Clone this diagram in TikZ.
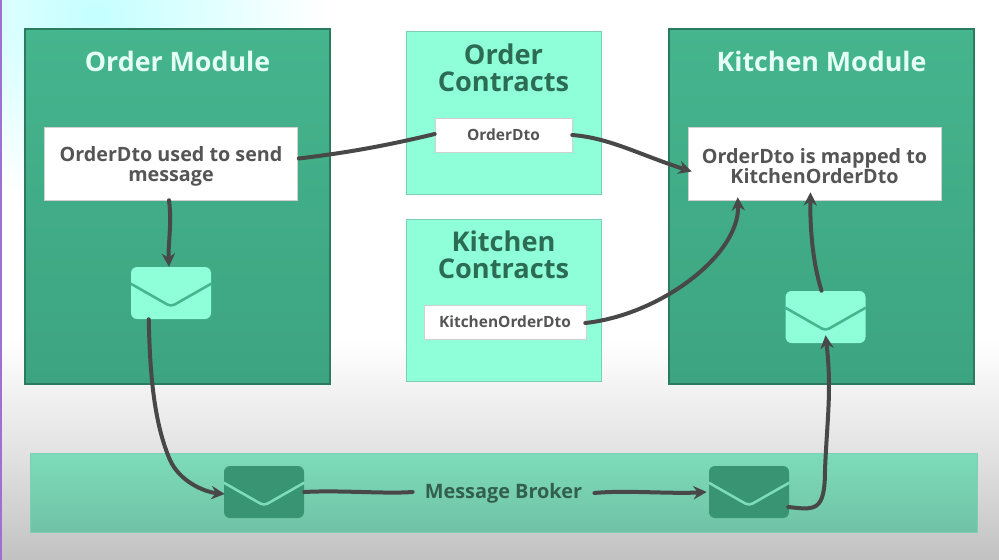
\documentclass[tikz,border=0pt]{standalone}
\usepackage{fontspec}
\setmainfont{Open Sans}
\usetikzlibrary{arrows.meta,calc}
\definecolor{modtop}{HTML}{45B58E}
\definecolor{modbot}{HTML}{3DA481}
\definecolor{modedge}{HTML}{2B7B60}
\definecolor{mint}{HTML}{8FFFD9}
\definecolor{mintedge}{HTML}{7CCFB4}
\definecolor{brokertop}{HTML}{7DDCBA}
\definecolor{brokerbot}{HTML}{70C2A6}
\definecolor{envdark}{HTML}{389472}
\definecolor{darktext}{HTML}{2C6B54}
\definecolor{graytext}{HTML}{555555}
\definecolor{wire}{HTML}{484848}
\definecolor{titlemint}{HTML}{E4FFF6}
\definecolor{glow}{HTML}{C4FFFF}
\definecolor{brokertext}{HTML}{325F4E}
\tikzset{
 module/.style={draw=modedge,line width=0.8pt,top color=modtop,bottom color=modbot,minimum width=228.75pt,minimum height=266.25pt,inner sep=0pt},
 contract/.style={draw=mintedge,line width=0.6pt,fill=mint,minimum width=146.25pt,minimum height=122pt,inner sep=0pt},
 whitebox/.style={fill=white,draw=black!18,line width=0.4pt,inner sep=0pt,text=graytext,font=\bfseries\fontsize{14.8}{15}\selectfont,align=center},
 smallbox/.style={whitebox,font=\bfseries\fontsize{11.6}{13}\selectfont},
 modtitle/.style={text=titlemint,font=\bfseries\fontsize{20.1}{24}\selectfont,align=center},
 contitle/.style={text=darktext,font=\bfseries\fontsize{20.4}{20.5}\selectfont,align=center},
 envlight/.style={fill=mint,rounded corners=4.5pt,minimum width=60pt,minimum height=39pt,inner sep=0pt},
 envd/.style={fill=envdark,rounded corners=4.5pt,minimum width=60pt,minimum height=39pt,inner sep=0pt},
 flap/.style={line width=1.9pt,rounded corners=3pt},
 wireline/.style={draw=wire,line width=3pt,line cap=round},
 wirearrow/.style={wireline,-{Stealth[length=10pt,width=10pt]}},
}
\newcommand{\flapon}[2]{%
 \draw[flap,draw=#2] ($(#1.west)+(0,7pt)$) -- ($(#1.south)+(0,9.5pt)$) -- ($(#1.east)+(0,7pt)$);}
\begin{document}
\begin{tikzpicture}[x=0.75pt,y=-0.75pt]
\useasboundingbox (0,0) rectangle (999,560);
% background
\fill[white] (0,0) rectangle (999,340);
\shade[top color=white,bottom color=black!11] (0,340) rectangle (999,450);
\shade[top color=black!11,bottom color=black!24] (0,450) rectangle (999,560);
\begin{scope}
\clip (0,0) rectangle (999,560);
\shade[inner color=glow,outer color=white] (-135,-175) rectangle (325,205);
\end{scope}
\fill[white!55!violet!80!blue] (0,0) rectangle (1.5,560);
% containers
\node[module] (om) at (177.5,206.5) {};
\node[module] (km) at (821.5,206.5) {};
\node[contract,minimum height=122.25pt] (oc) at (503.5,112.5) {};
\node[contract,minimum height=121.5pt] (kc) at (503.5,300) {};
\node[draw=mintedge,line width=0.5pt,top color=brokertop,bottom color=brokerbot,minimum width=710.25pt,minimum height=59.25pt,inner sep=0pt] (br) at (503.5,492.5) {};
% titles
\node[modtitle] (omt) at (177.5,61) {Order Module};
\node[modtitle] (kmt) at (821.5,61) {Kitchen Module};
\node[contitle] (oct) at (503.5,67.5) {Order\\Contracts};
\node[contitle] (kct) at (503.5,255) {Kitchen\\Contracts};
% white boxes
\node[whitebox,minimum width=189.75pt,minimum height=54.75pt] (ow) at (171,163.5) {\rule{0pt}{15.5pt}OrderDto used to send\\message};
\node[whitebox,minimum width=189.75pt,minimum height=54.75pt] (kw) at (814.5,163.5) {\rule{0pt}{15.5pt}OrderDto is mapped to\\KitchenOrderDto};
\node[smallbox,minimum width=102.75pt,minimum height=25.5pt] (od) at (503.5,135) {OrderDto};
\node[smallbox,minimum width=121.5pt,minimum height=25.5pt] (kd) at (505,322) {KitchenOrderDto};
% envelopes
\node[envlight] (e1) at (171,293) {};
\node[envlight] (e4) at (825.5,317) {};
\node[envd] (e2) at (264,492) {};
\node[envd] (e3) at (749,492) {};
\flapon{e1}{modtop}
\flapon{e4}{modtop}
\flapon{e2}{brokertop}
\flapon{e3}{brokertop}
\node[text=brokertext,font=\bfseries\fontsize{14.9}{16}\selectfont,inner sep=0pt,minimum width=136pt,minimum height=14pt] (mb) at (503.5,493) {Message Broker};
% connectors
\draw[wireline] ($(ow.east)+(1,-5)$) .. controls (345,153) and (385,146) .. ($(od.west)+(0,-1)$);
\draw[wirearrow] ($(od.east)+(0,0)$) .. controls (610,138) and (640,155) .. ($(kw.west)+(4,8)$);
\draw[wirearrow] ($(kd.east)+(-1,1)$) .. controls (660,315) and (740,255) .. ($(kw.south west)+(50,-3)$);
\draw[wirearrow] ($(e4.north)+(-4,0)$) .. controls (812,260) and (810,225) .. ($(kw.south)+(-4,-8)$);
\draw[wirearrow] ($(ow.south)+(-2,0)$) .. controls (172,222) and (168,245) .. ($(e1.north)+(-2,0)$);
\draw[wirearrow] ($(e1.south west)+(18,0)$) .. controls (150,380) and (155,425) .. (170,460) .. controls (180,482) and (205,492) .. ($(e2.west)+(1,2)$);
\draw[wireline] ($(e2.east)+(0,0)$) .. controls (340,490) and (385,494) .. ($(mb.west)+(0,-1)$);
\draw[wirearrow] ($(mb.east)+(0,0)$) .. controls (625,490) and (670,494) .. ($(e3.west)+(-2,0)$);
\draw[wirearrow] ($(e3.east)+(-1,15)$) .. controls (815,510) and (825,512) .. (825,470) .. controls (827,420) and (832,390) .. ($(e4.south)+(0,-8)$);
\end{tikzpicture}
\end{document}
